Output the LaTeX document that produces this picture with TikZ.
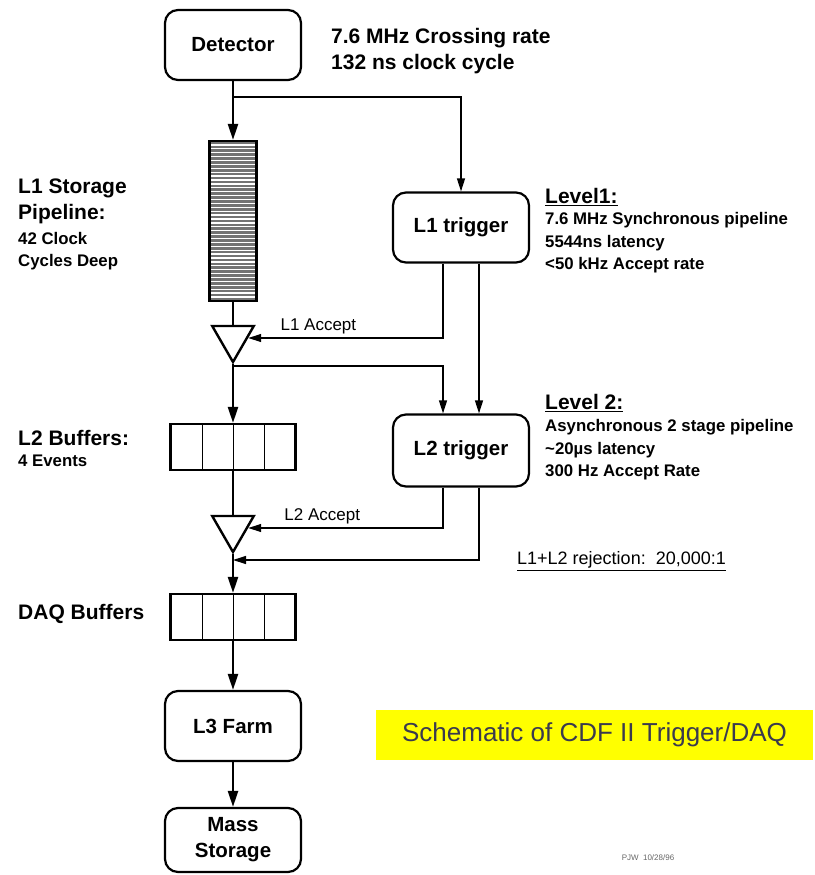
\documentclass[tikz,border=0pt]{standalone}
\usepackage{fontspec}
\setmainfont{Liberation Sans}
\usetikzlibrary{positioning, arrows.meta, shapes.geometric}

\definecolor{capbg}{RGB}{255,255,0}
\definecolor{captxt}{RGB}{58,58,78}

\newcommand{\boxfont}{\fontsize{20.5}{26}\selectfont\bfseries}
\newcommand{\headfont}{\fontsize{21}{26}\selectfont\bfseries}
\newcommand{\smallbold}{\fontsize{16.8}{22.5}\selectfont\bfseries}
\newcommand{\lblfont}{\fontsize{17}{20}\selectfont}

\tikzset{
  block/.style={draw, line width=2.2pt, rounded corners=13pt, minimum width=136pt,
    minimum height=70pt, align=center, font=\boxfont},
  gate/.style={draw, line width=2.4pt, regular polygon, regular polygon sides=3,
    shape border rotate=180, minimum size=48pt, inner sep=0pt},
  buffer/.style={draw, line width=2.2pt, minimum width=125pt, minimum height=46pt,
    path picture={\foreach \d in {-31,0,31}
      \draw[line width=0.9pt] ([xshift=\d pt]path picture bounding box.north)
        -- ([xshift=\d pt]path picture bounding box.south);}},
  pipeline/.style={draw, line width=2.2pt, fill=black!55, minimum width=47pt,
    minimum height=160pt,
    path picture={\foreach \k in {1,...,40}
      \draw[white, line width=1.3pt] ([yshift=-\k*3.9pt]path picture bounding box.north west)
        -- ([yshift=-\k*3.9pt]path picture bounding box.north east);}},
  flow/.style={line width=2.4pt, -{Triangle[length=16pt,width=10pt]}},
  sig/.style={line width=1.2pt, -{Triangle[length=13pt,width=8pt]}},
  vh/.style={to path={|- (\tikztotarget) \tikztonodes}},
  hv/.style={to path={-| (\tikztotarget) \tikztonodes}},
  note/.style={anchor=west, align=left, inner sep=0pt}
}

\begin{document}
\begin{tikzpicture}[x=1pt, y=-1pt]
\useasboundingbox (0,0) rectangle (814,875);

% main data path
\node[block] (det) at (233,45) {Detector};
\node[pipeline, node distance=176pt, below of=det] (pipe) {};
\node[gate, node distance=117pt, below of=pipe] (tri1) {};
\node[buffer, node distance=109pt, below of=tri1] (l2buf) {};
\node[gate, node distance=81pt, below of=l2buf] (tri2) {};
\node[buffer, node distance=89pt, below of=tri2] (daq) {};
\node[block, node distance=109pt, below of=daq] (l3) {L3 Farm};
\node[block, minimum height=64pt, node distance=114pt, below of=l3] (mass) {Mass\\Storage};

% triggers
\node[block] (l1trig) at (461,227.5) {L1 trigger};
\node[block, minimum height=72pt, node distance=223pt, below of=l1trig] (l2trig) {L2 trigger};

\coordinate[node distance=52pt, below of=det] (s1);
\coordinate[node distance=28pt, below of=tri1] (s2);
\coordinate[node distance=32pt, below of=tri2] (s3);

\draw
    (det) edge[flow] (pipe)
    (pipe) edge[line width=2.4pt] (tri1)
    (tri1) edge[flow] (l2buf)
    (l2buf) edge[line width=2.4pt] (tri2)
    (tri2) edge[flow] (daq)
    (daq) edge[flow] (l3)
    (l3) edge[flow] (mass)
    (s1) edge[sig, hv] (l1trig)
    (s2) edge[sig, hv] ([xshift=-18pt]l2trig.north)
    ([xshift=-18pt]l1trig.south) edge[sig, vh] node[above, pos=.82, font=\lblfont] {L1 Accept} (tri1)
    ([xshift=18pt]l1trig.south) edge[sig] ([xshift=18pt]l2trig.north)
    ([xshift=-18pt]l2trig.south) edge[sig, vh] node[above, pos=.81, font=\lblfont] {L2 Accept} (tri2)
    ([xshift=18pt]l2trig.south) edge[sig, vh] (s3)
    ;

% annotations
\node[note, font=\headfont] (rate) at (331,51) {7.6 MHz Crossing rate\\132 ns clock cycle};
\node[note, font=\headfont] (l1head) at (545,197) {\underline{Level1:}};
\node[note, font=\smallbold] (l1body) at (545,243) {7.6 MHz Synchronous pipeline\\5544ns latency\\<50 kHz Accept rate};
\node[note, font=\headfont] (l2head) at (545,403) {\underline{Level 2:}};
\node[note, font=\smallbold] (l2body) at (545,450) {Asynchronous 2 stage pipeline\\\textasciitilde20µs latency\\300 Hz Accept Rate};
\node[note, font=\fontsize{18}{22}\selectfont] (rej) at (517,561) {\underline{L1+L2 rejection:\ \ 20,000:1}};

\node[note, font=\headfont] (pipelbl) at (18,201.5) {L1 Storage\\Pipeline:};
\node[note, font=\smallbold] (pipesub) at (18,251) {42 Clock\\Cycles Deep};
\node[note, font=\headfont] (buflbl) at (18,438) {L2 Buffers:};
\node[note, font=\smallbold] (bufsub) at (18,461) {4 Events};
\node[note, font=\headfont] (daqlbl) at (18,614) {DAQ Buffers};

\node[fill=capbg, minimum width=437pt, minimum height=50pt, text=captxt,
  font=\fontsize{26}{30}\selectfont] (title) at (594.5,735) {Schematic of CDF II Trigger/DAQ};
\node[font=\fontsize{8}{10}\selectfont, text=black!60] (sig) at (648,858) {PJW\ \ 10/28/96};
\end{tikzpicture}
\end{document}
